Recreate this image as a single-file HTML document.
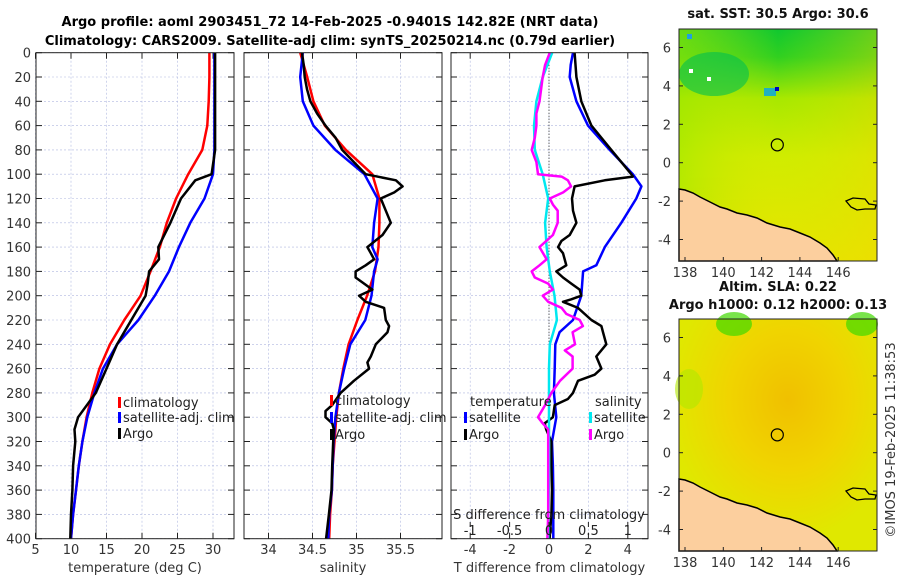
<!DOCTYPE html>
<html><head><meta charset="utf-8"><style>
html,body{margin:0;padding:0;background:#fff;}
svg{display:block;font-family:"DejaVu Sans","Liberation Sans",sans-serif;}
</style></head><body>
<svg id="fig" width="900" height="580" viewBox="0 0 900 580" xmlns="http://www.w3.org/2000/svg">
<defs>
<linearGradient id="sstg" x1="0" y1="0" x2="0" y2="1">
<stop offset="0" stop-color="#10c830"/><stop offset="0.12" stop-color="#30d020"/><stop offset="0.3" stop-color="#a8e800"/><stop offset="0.55" stop-color="#d0ec00"/><stop offset="1" stop-color="#e8e400"/>
</linearGradient>
<linearGradient id="sstx" x1="0" y1="0" x2="1" y2="0">
<stop offset="0" stop-color="#a0e800" stop-opacity="0.6"/><stop offset="0.5" stop-color="#d8e800" stop-opacity="0"/><stop offset="1" stop-color="#f0d800" stop-opacity="0.4"/>
</linearGradient>
<radialGradient id="slag" cx="0.55" cy="0.35" r="0.6">
<stop offset="0" stop-color="#f0c000"/><stop offset="0.5" stop-color="#f0d400"/><stop offset="1" stop-color="#e0e800"/>
</radialGradient>
</defs>
<text x="330" y="26" text-anchor="middle" font-size="13" font-weight="bold">Argo profile: aoml 2903451_72 14-Feb-2025 -0.9401S 142.82E (NRT data)</text>
<text x="330" y="45" text-anchor="middle" font-size="13" font-weight="bold">Climatology: CARS2009. Satellite-adj clim: synTS_20250214.nc (0.79d earlier)</text>
<g id="plots"></g>
<g id="maps"></g>
<text transform="translate(895,440) rotate(-90)" text-anchor="middle" font-size="13" fill="#333">©IMOS 19-Feb-2025 11:38:53</text>
</svg>
<script>
const NS='http://www.w3.org/2000/svg';
// ---------- data ----------
const depthTicks=[0,20,40,60,80,100,120,140,160,180,200,220,240,260,280,300,320,340,360,380,400];
const d20=[0,20,40,60,80,100,120,140,160,180,200,220,240,260,280,300,320,340,360,380,400];
const tempClim=[29.5,29.5,29.4,29.2,28.5,26.5,24.8,23.5,22.5,21.2,19.8,17.5,15.5,14.0,13.0,12.2,11.6,11.1,10.7,10.3,10.0];
const tempSat=[30.2,30.2,30.2,30.2,30.2,30.0,28.8,26.8,25.2,23.8,21.8,19.5,16.5,14.5,13.3,12.3,11.6,11.1,10.7,10.3,10.0];
const argoTDepth=[0,80,100,105,120,140,160,170,180,190,200,220,240,260,280,300,310,320,340,360,380,400];
const tempArgo=[30.3,30.3,29.8,27.5,25.5,24.0,22.3,22.4,21.0,20.8,20.5,18.5,16.5,15.0,13.5,11.0,10.5,10.6,10.3,10.2,10.0,9.9];
const salClim=[34.36,34.44,34.51,34.64,34.88,35.18,35.26,35.26,35.25,35.21,35.12,35.01,34.91,34.85,34.80,34.77,34.75,34.73,34.72,34.70,34.69];
const salSatDepth=[0,20,40,60,80,100,120,140,160,170,180,200,220,240,260,280,300,320,340,360,380,400];
const salSat=[34.39,34.36,34.39,34.51,34.76,35.09,35.24,35.20,35.18,35.24,35.20,35.17,35.10,34.93,34.86,34.80,34.76,34.74,34.73,34.72,34.69,34.68];
const argoSDepth=[0,10,20,30,40,50,60,70,80,90,100,105,110,115,120,130,140,150,160,165,170,175,180,185,190,195,200,205,210,220,225,230,240,250,255,260,270,280,290,295,300,305,310,320,340,360,380,400];
const salArgo=[34.381,34.400,34.411,34.438,34.476,34.552,34.648,34.762,34.838,34.971,35.105,35.448,35.524,35.429,35.276,35.333,35.390,35.295,35.124,35.162,35.200,35.105,34.990,34.990,35.086,35.181,35.029,35.105,35.314,35.333,35.371,35.352,35.219,35.162,35.124,35.143,34.971,34.819,34.724,34.648,34.648,34.724,34.743,34.735,34.724,34.716,34.686,34.655];
const dTSatDepth=[0,10,20,40,60,80,100,110,120,140,160,175,180,200,220,230,240,260,280,300,320,340,360,380,400];
const dTSat=[1.22,1.10,1.05,1.39,1.98,3.08,4.26,4.69,4.43,3.67,2.83,2.40,1.73,1.64,1.22,0.54,0.32,0.29,0.25,0.37,0.15,0.20,0.22,0.22,0.22];
const dTArgoDepth=[0,20,40,60,80,100,102,105,110,120,130,140,150,155,160,165,175,180,185,190,195,200,203,205,210,220,225,230,240,250,260,265,270,280,285,290,300,305,310,320,340,360,380,400];
const dTArgo=[1.30,1.39,1.64,2.15,3.16,4.18,4.26,2.83,1.30,1.17,1.22,1.39,1.05,0.63,0.46,0.71,0.88,0.37,0.71,1.13,1.56,1.64,1.13,0.71,1.47,2.15,2.66,2.74,2.91,2.40,2.66,2.32,1.47,1.22,0.96,0.29,0.20,-0.22,-0.14,0.12,0.12,0.15,0.12,0.03];
const dSSatDepth=[0,20,40,60,80,100,120,140,160,180,200,220,240,260,280,300,340,400];
const dSSat=[0.04,-0.08,-0.16,-0.19,-0.18,-0.08,-0.01,-0.05,-0.03,0.01,0.07,0.10,0.01,0,0,0,0,-0.01];
const dSArgoDepth=[0,10,20,30,40,50,60,70,80,90,100,102,105,110,115,120,125,130,140,150,160,170,175,180,185,190,195,200,205,210,215,220,225,230,240,245,250,260,270,280,290,300,305,310,320,340,360,380,400];
const dSArgo=[0.01,-0.05,-0.08,-0.10,-0.12,-0.16,-0.16,-0.18,-0.22,-0.16,-0.14,0.16,0.24,0.28,0.18,0.01,0.05,0.11,0.11,0.05,-0.12,-0.03,-0.12,-0.22,-0.18,-0.01,0.05,-0.08,-0.01,0.16,0.22,0.39,0.43,0.30,0.33,0.20,0.30,0.30,0.14,0.03,-0.05,-0.14,-0.08,-0.01,-0.01,-0.01,-0.01,-0.01,-0.02];
const tTicks=[5,10,15,20,25,30];
const sTicks=[34,34.5,35,35.5];
const dtTicks=[-4,-2,0,2,4];
const dsTicks=[-1,-0.5,0,0.5,1];
const dsTickLabels=['-1','-0.5','0','0.5','1'];
// ---------- axes ----------
const TOP=52.7, BOT=538.7;
const FS=13;
const yD=d=>TOP+d*(BOT-TOP)/400;
const xT=t=>35.5+(t-5)*7.1;
const xS=s=>268.5+(s-34)*88;
const xDT=t=>549+t*19.7;
const xDS=s=>549+s*78.8;
const P1={l:36,r:234}, P2={l:244,r:442}, P3={l:451,r:648};
const G=document.getElementById('plots');
function el(tag,attrs,parent){const e=document.createElementNS(NS,tag);for(const k in attrs)e.setAttribute(k,attrs[k]);(parent||G).appendChild(e);return e;}
function txt(x,y,s,attrs,parent){const e=el('text',Object.assign({x:x,y:y,'font-size':FS,fill:'#333'},attrs||{}),parent);e.textContent=s;return e;}
function panel(P,name,xticks,xf,labels,xlabel){
  const g=el('g',{});
  
  
  el('rect',{x:P.l,y:TOP,width:P.r-P.l,height:BOT-TOP,fill:'#fff'},g);
  depthTicks.forEach(d=>{const y=yD(d);
    el('line',{x1:P.l,x2:P.r,y1:y,y2:y,stroke:'#b0b8e0','stroke-width':0.6,'stroke-dasharray':'2,2'},g);
    el('line',{x1:P.l,x2:P.l+6,y1:y,y2:y,stroke:'#222'},g);
    el('line',{x1:P.r-6,x2:P.r,y1:y,y2:y,stroke:'#222'},g);});
  xticks.forEach((t,i)=>{const x=xf(t);
    el('line',{x1:x,x2:x,y1:TOP,y2:BOT,stroke:'#b0b8e0','stroke-width':0.6,'stroke-dasharray':'2,2'},g);
    el('line',{x1:x,x2:x,y1:BOT-6,y2:BOT,stroke:'#222'},g);
    el('line',{x1:x,x2:x,y1:TOP,y2:TOP+6,stroke:'#222'},g);
    const lt=txt(x,554,labels[i],{'text-anchor':'middle'},g);
    
    });
  const xl=txt((P.l+P.r)/2,572,xlabel,{'text-anchor':'middle'},g);
  
  
  return g;
}
function line(g,xs,ds,xf,color,name,w){
  const pts=xs.map((v,i)=>xf(v).toFixed(1)+','+yD(ds[i]).toFixed(1)).join(' ');
  const p=el('polyline',{points:pts,fill:'none',stroke:color,'stroke-width':w||2.5,'stroke-linejoin':'round'},g);
  
  
}
function frame(g,P){el('rect',{x:P.l,y:TOP,width:P.r-P.l,height:BOT-TOP,fill:'none',stroke:'#222','stroke-width':1},g);}
function legItem(g,x,y,color,label,name){
  el('rect',{x:x,y:y-10,width:3,height:11,fill:color},g);
  const t=txt(x+5,y,label,{fill:'#222'},g);
  
  
}
// panel 1
const g1=panel(P1,'temperature-panel',tTicks,xT,tTicks.map(String),'temperature (deg C)');
depthTicks.forEach(d=>{const t=txt(31,yD(d)+5,String(d),{'text-anchor':'end'},g1);
  
  });
line(g1,tempClim,d20,xT,'#ff0000','temp-climatology-line');
line(g1,tempSat,d20,xT,'#0000ff','temp-satellite-line');
line(g1,tempArgo,argoTDepth,xT,'#000','temp-argo-line');
legItem(g1,118,407,'#ff0000','climatology','legend-climatology');
legItem(g1,118,422,'#0000ff','satellite-adj. clim','legend-satellite');
legItem(g1,118,438,'#000','Argo','legend-argo');
frame(g1,P1);
// panel 2
const g2=panel(P2,'salinity-panel',sTicks,xS,['34','34.5','35','35.5'],'salinity');
line(g2,salClim,d20,xS,'#ff0000','sal-climatology-line');
line(g2,salSat,salSatDepth,xS,'#0000ff','sal-satellite-line');
line(g2,salArgo,argoSDepth,xS,'#000','sal-argo-line');
legItem(g2,330,405,'#ff0000','climatology','legend-climatology-2');
legItem(g2,330,422,'#0000ff','satellite-adj. clim','legend-satellite-2');
legItem(g2,330,439,'#000','Argo','legend-argo-2');
frame(g2,P2);
// panel 3
const g3=panel(P3,'difference-panel',dtTicks,xDT,dtTicks.map(String),'T difference from climatology');
el('line',{x1:xDT(0),x2:xDT(0),y1:TOP,y2:BOT,stroke:'#333','stroke-width':1,'stroke-dasharray':'1,2'},g3);
line(g3,dTSat,dTSatDepth,xDT,'#0000ff','dT-satellite-line');
line(g3,dTArgo,dTArgoDepth,xDT,'#000','dT-argo-line');
line(g3,dSSat,dSSatDepth,xDS,'#00e8f0','dS-satellite-line');
line(g3,dSArgo,dSArgoDepth,xDS,'#ff00ff','dS-argo-line');
txt(470,406,'temperature',{fill:'#222'},g3);
legItem(g3,464,422,'#0000ff','satellite','legend-t-satellite');
legItem(g3,464,439,'#000','Argo','legend-t-argo');
txt(595,406,'salinity',{fill:'#222'},g3);
legItem(g3,589,422,'#00e8f0','satellite','legend-s-satellite');
legItem(g3,589,439,'#ff00ff','Argo','legend-s-argo');
txt(549,519,'S difference from climatology',{'text-anchor':'middle',fill:'#222'},g3);
dsTicks.forEach((s,i)=>{const x=xDS(s);
  el('line',{x1:x,x2:x,y1:522,y2:527,stroke:'#222'},g3);
  const t=txt(x,535,dsTickLabels[i],{'text-anchor':'middle',fill:'#222'},g3);
  
  });
frame(g3,P3);
// ---------- maps ----------
const M=document.getElementById('maps');
const lonTicks=[138,140,142,144,146];
const latTicks=[6,4,2,0,-2,-4];
const argoLon=142.82, argoLat=-0.9401+1.87;
const coast='M0,160 L6,161 L14,164 L21,168 L31,173 L41,178 L48,180 L58,184 L68,186 L78,189 L88,194 L101,198 L111,200 L121,204 L131,208 L141,214 L148,219 L154,226 L158,232';
function map(ox,oy,fill,name,title1,title2){
  const g=el('g',{transform:'translate('+ox+','+oy+')'},M);
  
  
  const W=198,H=232;
  const lx=lon=>6+(lon-138)*19.15, ly=lat=>18.5+(6-lat)*19.2;
  el('rect',{x:0,y:0,width:W,height:H,fill:fill},g);
  if(name==='sst-map'){
    el('rect',{x:0,y:0,width:W,height:H,fill:'url(#sstx)'},g);
    el('ellipse',{cx:35,cy:45,rx:35,ry:22,fill:'#00c050',opacity:0.6},g);
    el('rect',{x:8,y:5,width:5,height:5,fill:'#20a0e0'},g);
    el('rect',{x:10,y:40,width:4,height:4,fill:'#fff'},g);
    el('rect',{x:28,y:48,width:4,height:4,fill:'#fff'},g);
    el('rect',{x:85,y:59,width:12,height:8,fill:'#20b0c0'},g);
    el('rect',{x:96,y:58,width:4,height:4,fill:'#0000c0'},g);
  } else {
    el('ellipse',{cx:55,cy:5,rx:18,ry:12,fill:'#40d800',opacity:0.7},g);
    el('ellipse',{cx:183,cy:5,rx:16,ry:12,fill:'#40d800',opacity:0.7},g);
    el('ellipse',{cx:10,cy:70,rx:14,ry:20,fill:'#b0e800',opacity:0.6},g);
  }
  el('path',{d:coast+' L0,232 Z',fill:'#fccf9e',stroke:'#000','stroke-width':1.5},g);
  el('path',{d:'M167,172 L174,169 L186,170 L190,175 L197,176 L196,180 L186,180 L178,181 L172,178 Z',fill:'none',stroke:'#000','stroke-width':1.3},g);
  const c=el('circle',{cx:lx(argoLon),cy:ly(argoLat),r:6,fill:'none',stroke:'#000','stroke-width':1.2},g);
  
  
  el('rect',{x:0,y:0,width:W,height:H,fill:'none',stroke:'#222','stroke-width':1},g);
  lonTicks.forEach(l=>{const x=lx(l);
    el('line',{x1:x,x2:x,y1:H-4,y2:H,stroke:'#222'},g);
    const t=txt(x,H+16,String(l),{'text-anchor':'middle'},g);
    
    });
  latTicks.forEach(l=>{const y=ly(l);
    el('line',{x1:W-4,x2:W,y1:y,y2:y,stroke:'#222'},g);
    el('line',{x1:0,x2:4,y1:y,y2:y,stroke:'#222'},g);
    const t=txt(-8,y+5,String(l),{'text-anchor':'end'},g);
    
    });
  const t1=txt(W/2,title2?-28:-11,title1,{'text-anchor':'middle','font-weight':'bold',fill:'#111'},g);
  
  
  if(title2){const t2=txt(W/2,-10,title2,{'text-anchor':'middle','font-weight':'bold',fill:'#111'},g);
    
    }
}
map(679,29,'url(#sstg)','sst-map','sat. SST: 30.5 Argo: 30.6');
map(679,319,'url(#slag)','sla-map','Altim. SLA: 0.22','Argo h1000: 0.12 h2000: 0.13');
</script>
</body></html>
